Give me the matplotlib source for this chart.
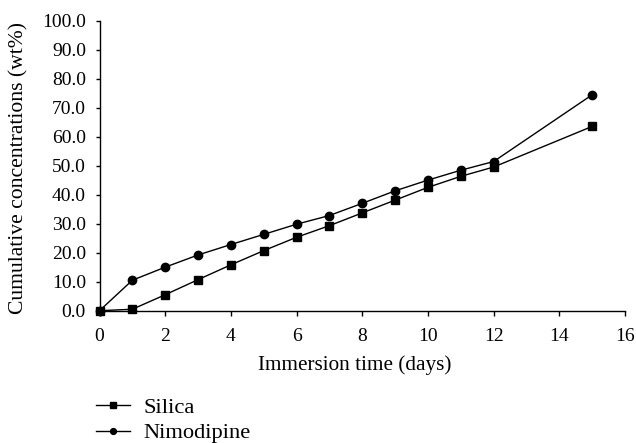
import matplotlib
matplotlib.use("Agg")
import matplotlib.pyplot as plt
from matplotlib.ticker import FormatStrFormatter

days = [0, 1, 2, 3, 4, 5, 6, 7, 8, 9, 10, 11, 12, 15]
silica = [0.0, 0.5, 5.5, 10.7, 15.8, 20.7, 25.3, 29.3, 33.7, 38.1, 42.5, 46.3, 49.5, 63.5]
nimodipine = [0.0, 10.5, 15.0, 19.2, 22.8, 26.3, 29.8, 32.8, 37.0, 41.3, 45.0, 48.4, 51.4, 74.4]
x_ticks = [0, 2, 4, 6, 8, 10, 12, 14, 16]
y_ticks = [0, 10, 20, 30, 40, 50, 60, 70, 80, 90, 100]

plt.rcParams['font.family'] = ['Liberation Serif', 'DejaVu Serif']

W, H = 636, 443
fig = plt.figure(figsize=(W / 100, H / 100), dpi=100)
x0, x1, y0, y1 = 99.5, 625.0, 310.7, 20.5
ax = fig.add_axes([x0 / W, 1 - y0 / H, (x1 - x0) / W, (y0 - y1) / H])

l1, = ax.plot(days, silica, color='black', lw=1.0, marker='s', ms=5.8,
              clip_on=False, label='Silica', zorder=3)
l2, = ax.plot(days, nimodipine, color='black', lw=1.0, marker='o', ms=6.0,
              clip_on=False, label='Nimodipine', zorder=3)

ax.set_xlim(0, 16)
ax.set_ylim(0, 100)
ax.set_xticks(x_ticks)
ax.set_yticks(y_ticks)
ax.yaxis.set_major_formatter(FormatStrFormatter('%.1f'))
for s in ['top', 'right']:
    ax.spines[s].set_visible(False)
for s in ['left', 'bottom']:
    ax.spines[s].set_linewidth(1.0)
ax.tick_params(axis='x', direction='out', length=3.6, width=1.0, labelsize=14, pad=8.5)
ax.tick_params(axis='y', direction='out', length=3.0, width=1.0, labelsize=14, pad=6.8)

ax.set_xlabel('Immersion time (days)', fontsize=15.3)
ax.xaxis.label.set_va('center')
ax.xaxis.set_label_coords((354.5 - x0) / (x1 - x0), (y0 - 365) / (y0 - y1))

ax.set_ylabel('Cumulative concentrations (wt%)', fontsize=15.6)
ax.yaxis.label.set_va('center')
ax.yaxis.set_label_coords((18.5 - x0) / (x1 - x0), (y0 - 168.5) / (y0 - y1))

fig.legend(handles=[l1, l2], loc='upper left', bbox_to_anchor=(96 / W, 1 - 397 / H),
           frameon=False, fontsize=16.2, handlelength=1.5, handletextpad=0.6,
           labelspacing=0.22, markerscale=0.7, borderpad=0, borderaxespad=0)

fig.savefig('out.png', dpi=100)
